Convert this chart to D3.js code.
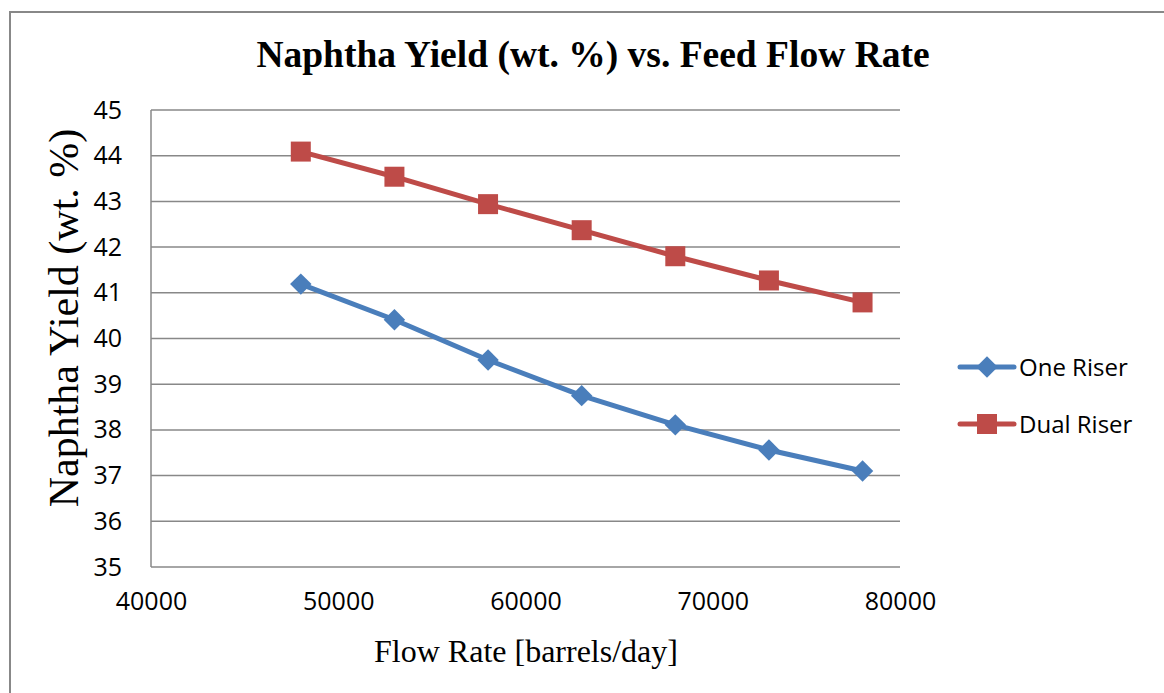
<!DOCTYPE html>
<html>
<head>
<meta charset="utf-8">
<script src="https://cdn.jsdelivr.net/npm/d3@7"></script>
<style>
  body { margin: 0; background: #fff; }
  svg { display: block; }
</style>
</head>
<body>
<svg id="chart" width="1164" height="693"></svg>
<script>
// chart data
const flowRates = [48000, 53000, 58000, 63000, 68000, 73000, 78000];
const oneRiser = [41.19, 40.41, 39.53, 38.75, 38.11, 37.56, 37.1];
const dualRiser = [44.09, 43.54, 42.94, 42.37, 41.8, 41.27, 40.79];
const seriesNames = ['One Riser', 'Dual Riser'];
const xTicks = [40000, 50000, 60000, 70000, 80000];
const yTicks = [35, 36, 37, 38, 39, 40, 41, 42, 43, 44, 45];

const svg = d3.select('#chart');
const plot = { left: 151, top: 110, right: 900, bottom: 567 };

const x = d3.scaleLinear().domain([40000, 80000]).range([plot.left, plot.right]);
const y = d3.scaleLinear().domain([35, 45]).range([plot.bottom, plot.top]);

const colors = { 'One Riser': '#4a7ebb', 'Dual Riser': '#be4b48' };
const labelFont = '"Open Sans", "Liberation Sans", sans-serif';
const serif = '"Liberation Serif", "Times New Roman", serif';

// outer chart frame (runs off right and bottom)
svg.append('path')
    .attr('d', 'M10,700 L10,12 L1170,12')
    .attr('fill', 'none')
    .attr('stroke', '#888')
    .attr('stroke-width', 2);

// title
svg.append('text')
    .attr('x', 593).attr('y', 67)
    .attr('text-anchor', 'middle')
    .style('font-family', serif)
    .style('font-weight', 'bold')
    .style('font-size', '37.5px')
    .text('Naphtha Yield (wt. %) vs. Feed Flow Rate');

// horizontal gridlines
svg.append('g')
    .selectAll('line')
    .data(yTicks)
    .join('line')
    .attr('x1', plot.left).attr('x2', plot.right)
    .attr('y1', d => y(d)).attr('y2', d => y(d))
    .attr('stroke', '#888')
    .attr('stroke-width', 1.5);

// left axis line
svg.append('line')
    .attr('x1', plot.left).attr('x2', plot.left)
    .attr('y1', plot.top).attr('y2', plot.bottom)
    .attr('stroke', '#888').attr('stroke-width', 1.5);

// y axis labels
const yAxis = d3.axisLeft(y).tickValues(yTicks).tickSize(0).tickPadding(29);
svg.append('g')
    .attr('transform', `translate(${plot.left},0)`)
    .call(yAxis)
    .call(g => g.select('.domain').remove())
    .selectAll('text')
    .style('font-family', labelFont)
    .style('font-size', '25px')
    .attr('fill', '#000');

// x axis labels
const xAxis = d3.axisBottom(x).tickValues(xTicks).tickSize(0).tickPadding(25).tickFormat(d3.format('d'));
svg.append('g')
    .attr('transform', `translate(0,${plot.bottom})`)
    .call(xAxis)
    .call(g => g.select('.domain').remove())
    .selectAll('text')
    .style('font-family', labelFont)
    .style('font-size', '25px')
    .attr('fill', '#000');

// axis titles
svg.append('text')
    .attr('transform', 'translate(78,318) rotate(-90)')
    .attr('text-anchor', 'middle')
    .style('font-family', serif)
    .style('font-size', '42px')
    .text('Naphtha Yield (wt. %)');

svg.append('text')
    .attr('x', 526).attr('y', 662)
    .attr('text-anchor', 'middle')
    .style('font-family', serif)
    .style('font-size', '32px')
    .text('Flow Rate [barrels/day]');

// series
const series = [
    { name: 'One Riser', values: oneRiser, symbol: d3.symbolSquare, size: 230, rotate: 45 },
    { name: 'Dual Riser', values: dualRiser, symbol: d3.symbolSquare, size: 400, rotate: 0 }
];

const line = d3.line()
    .x((d, i) => x(flowRates[i]))
    .y(d => y(d));

series.forEach(s => {
    svg.append('path')
        .datum(s.values)
        .attr('d', line)
        .attr('fill', 'none')
        .attr('stroke', colors[s.name])
        .attr('stroke-width', 5)
        .attr('stroke-linejoin', 'round');

    svg.append('g')
        .selectAll('path')
        .data(s.values)
        .join('path')
        .attr('transform', (d, i) => `translate(${x(flowRates[i])},${y(d)}) rotate(${s.rotate})`)
        .attr('d', d3.symbol().type(s.symbol).size(s.size))
        .attr('fill', colors[s.name]);
});

// legend
const legend = svg.append('g').attr('transform', 'translate(960,367)');
series.forEach((s, i) => {
    const g = legend.append('g').attr('transform', `translate(0,${i * 57})`);
    g.append('line')
        .attr('x1', 0).attr('x2', 54)
        .attr('stroke', colors[s.name])
        .attr('stroke-width', 5)
        .attr('stroke-linecap', 'round');
    g.append('path')
        .attr('transform', `translate(27,0) rotate(${s.rotate})`)
        .attr('d', d3.symbol().type(s.symbol).size(s.size))
        .attr('fill', colors[s.name]);
    g.append('text')
        .attr('x', 59).attr('y', 9)
        .style('font-family', labelFont)
        .style('font-size', '24px')
        .text(s.name);
});
</script>
</body>
</html>
